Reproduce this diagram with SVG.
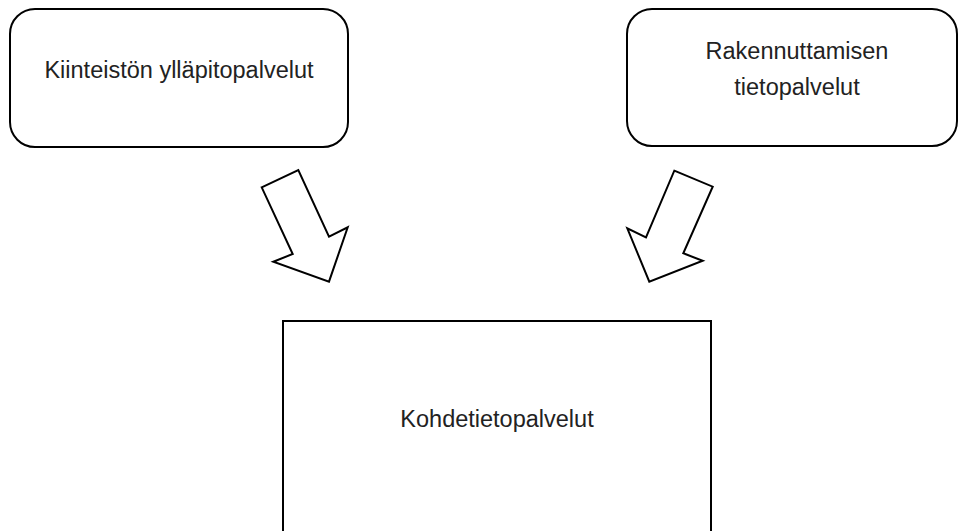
<svg xmlns="http://www.w3.org/2000/svg" width="959" height="531" viewBox="0 0 959 531">
<style>
.box{fill:#fff;stroke:#000;stroke-width:2}
.arr{fill:#fff;stroke:#000;stroke-width:2;stroke-linejoin:miter}
.t{font-family:"Liberation Sans",Arial,sans-serif;font-size:23.5px;fill:#222;text-anchor:middle}
</style>
<rect width="959" height="531" fill="#fff"/>
<g id="connectors">
<polygon class="arr" points="261.7,187.3 298.3,170 329,236.7 347.7,227.3 329,281.7 273.3,261.7 292.7,254"/>
<polygon class="arr" points="674.3,170.7 712.7,186.7 683.3,253.3 702.7,260.7 649.3,281.7 627.3,228.3 646,237.3"/>
</g>
<g id="node-kiinteisto">
<rect class="box" x="10" y="9" width="338" height="138" rx="25" ry="25"/>
<text class="t" x="179" y="78">Kiinteistön ylläpitopalvelut</text>
</g>
<g id="node-rakennuttaminen">
<rect class="box" x="627" y="9" width="330" height="137" rx="25" ry="25"/>
<text class="t" x="797" y="59">Rakennuttamisen</text>
<text class="t" x="797" y="95">tietopalvelut</text>
</g>
<g id="node-kohdetieto">
<rect class="box" x="283" y="321" width="428" height="230" stroke-width="2.5"/>
<text class="t" x="497" y="427">Kohdetietopalvelut</text>
</g>
</svg>
